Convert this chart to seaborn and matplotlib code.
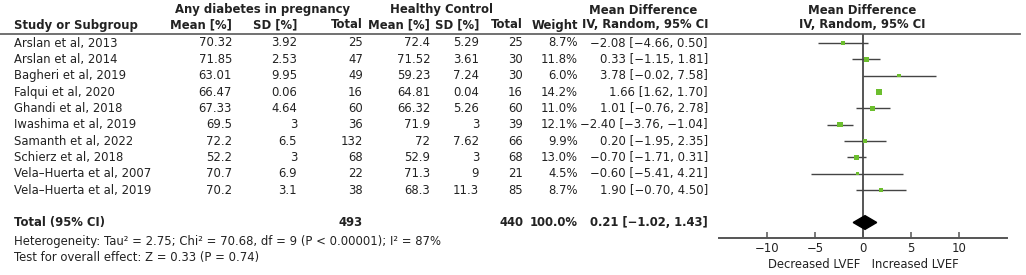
import seaborn as sns
import matplotlib.pyplot as plt
import pandas as pd
from matplotlib.patches import Polygon

# Dados do forest plot
studies = ['Arslan et al, 2013', 'Arslan et al, 2014', 'Bagheri et al, 2019',
           'Falqui et al, 2020', 'Ghandi et al, 2018', 'Iwashima et al, 2019',
           'Samanth et al, 2022', 'Schierz et al, 2018', 'Vela–Huerta et al, 2007',
           'Vela–Huerta et al, 2019']
dm_mean = ['70.32', '71.85', '63.01', '66.47', '67.33', '69.5', '72.2', '52.2', '70.7', '70.2']
dm_sd = ['3.92', '2.53', '9.95', '0.06', '4.64', '3', '6.5', '3', '6.9', '3.1']
dm_total = [25, 47, 49, 16, 60, 36, 132, 68, 22, 38]
hc_mean = ['72.4', '71.52', '59.23', '64.81', '66.32', '71.9', '72', '52.9', '71.3', '68.3']
hc_sd = ['5.29', '3.61', '7.24', '0.04', '5.26', '3', '7.62', '3', '9', '11.3']
hc_total = [25, 30, 30, 16, 60, 39, 66, 68, 21, 85]
weight = [8.7, 11.8, 6.0, 14.2, 11.0, 12.1, 9.9, 13.0, 4.5, 8.7]
md = [-2.08, 0.33, 3.78, 1.66, 1.01, -2.40, 0.20, -0.70, -0.60, 1.90]
ci_low = [-4.66, -1.15, -0.02, 1.62, -0.76, -3.76, -1.95, -1.71, -5.41, -0.70]
ci_high = [0.50, 1.81, 7.58, 1.70, 2.78, -1.04, 2.35, 0.31, 4.21, 4.50]
total_md, total_low, total_high = 0.21, -1.02, 1.43
ticks = [-10, -5, 0, 5, 10]

df = pd.DataFrame({'study': studies, 'weight': weight, 'md': md,
                   'low': ci_low, 'high': ci_high})
df['row'] = range(len(df))

def fmt(v):
    return f'{v:.2f}'.replace('-', '−')

W, H = 1026, 275
fig = plt.figure(figsize=(W / 100, H / 100), dpi=100)
plt.rcParams['font.family'] = ['DejaVu Sans']

# Eixo da tabela em coordenadas de pixel
tab = fig.add_axes([0, 0, 1, 1])
tab.set_xlim(0, W)
tab.set_ylim(H, 0)
tab.axis('off')

fs = 8.4
tc = '#222222'
row_y = lambda i: 43 + 16.35 * i
total_y = 222.5

def txt(x, y, s, ha='right', bold=False):
    tab.text(x, y, s, ha=ha, va='center', fontsize=fs, color=tc,
             fontweight='bold' if bold else 'normal')

# Cabeçalhos
txt(263, 10, 'Any diabetes in pregnancy', ha='center', bold=True)
txt(442, 10, 'Healthy Control', ha='center', bold=True)
txt(643, 10, 'Mean Difference', ha='center', bold=True)
txt(862, 10, 'Mean Difference', ha='center', bold=True)
txt(14, 25, 'Study or Subgroup', ha='left', bold=True)
cols = [232, 297, 363, 430, 479, 523, 578, 708]
heads = ['Mean [%]', 'SD [%]', 'Total', 'Mean [%]', 'SD [%]', 'Total', 'Weight',
         'IV, Random, 95% CI']
for x, h in zip(cols, heads):
    txt(x, 25, h, bold=True)
txt(862, 25, 'IV, Random, 95% CI', ha='center', bold=True)
tab.plot([0, 1020], [33.5, 33.5], color='#666666', lw=1.3)

for i in range(len(studies)):
    y = row_y(i)
    txt(14, y, studies[i], ha='left')
    vals = [dm_mean[i], dm_sd[i], dm_total[i], hc_mean[i], hc_sd[i], hc_total[i],
            f'{weight[i]:.1f}%', f'{fmt(md[i])} [{fmt(ci_low[i])}, {fmt(ci_high[i])}]']
    for x, v in zip(cols, vals):
        txt(x, y, str(v))

txt(14, total_y, 'Total (95% CI)', ha='left', bold=True)
txt(363, total_y, str(sum(dm_total)), bold=True)
txt(523, total_y, str(sum(hc_total)), bold=True)
txt(578, total_y, '100.0%', bold=True)
txt(708, total_y, f'{fmt(total_md)} [{fmt(total_low)}, {fmt(total_high)}]', bold=True)
txt(14, 241.5, 'Heterogeneity: Tau² = 2.75; Chi² = 70.68, df = 9 (P < 0.00001); I² = 87%', ha='left')
txt(14, 257.5, 'Test for overall effect: Z = 0.33 (P = 0.74)', ha='left')
txt(863, 264, 'Decreased LVEF   Increased LVEF', ha='center')

# Forest plot
ax_l, ax_r, ax_top, ax_bot = 719, 1007, 33.5, 238
ax = fig.add_axes([ax_l / W, 1 - ax_bot / H, (ax_r - ax_l) / W, (ax_bot - ax_top) / H])
ax.patch.set_alpha(0)
ax.set_xlim(-15, 15)
ylo = (ax_bot - 43) / 16.35
yhi = (ax_top - 43) / 16.35
ax.set_ylim(ylo, yhi)
total_row = (total_y - 43) / 16.35

ax.axvline(0, color='#555555', lw=1.4, zorder=1)
ax.hlines(df['row'], df['low'], df['high'], color='#444444', lw=1.0, zorder=2)
sns.scatterplot(data=df, x='md', y='row', size='weight', sizes=(5, 16), marker='s',
                color='#6cbe2e', edgecolor='none', legend=False, ax=ax, zorder=3)
ax.add_patch(Polygon([(total_low, total_row), (total_md, total_row - 0.42),
                      (total_high, total_row), (total_md, total_row + 0.42)],
                     closed=True, color='black', zorder=3))

for s in ['top', 'right', 'left']:
    ax.spines[s].set_visible(False)
ax.spines['bottom'].set_color('#555555')
ax.spines['bottom'].set_linewidth(1.4)
ax.set_yticks([])
ax.set_xticks(ticks)
ax.set_xticklabels([str(t).replace('-', '−') for t in ticks], fontsize=fs, color=tc)
ax.tick_params(axis='x', direction='in', length=4, width=1.1, color='#555555', pad=3)
ax.set_xlabel('')
ax.set_ylabel('')

fig.savefig('out.png', dpi=100)
